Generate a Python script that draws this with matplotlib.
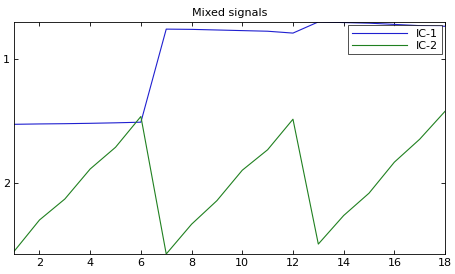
import matplotlib
matplotlib.use("Agg")
import matplotlib.pyplot as plt
import numpy as np

x = np.arange(1, 19)
ic1 = [1.525, 1.522, 1.52, 1.517, 1.513, 1.508, 0.758, 0.76, 0.765, 0.77, 0.775, 0.79,
       0.70, 0.705, 0.71, 0.72, 0.73, 0.735]
ic2 = [2.548, 2.296, 2.127, 1.885, 1.71, 1.462, 2.57, 2.33, 2.14, 1.895, 1.73, 1.484,
       2.49, 2.26, 2.08, 1.83, 1.645, 1.42]

fig = plt.figure(figsize=(4.56, 2.74), dpi=100)
ax = fig.add_axes([0.031, 0.073, 0.945, 0.847])
ax.plot(x, ic1, color="#2020d0", lw=0.8, label="IC-1")
ax.plot(x, ic2, color="#208020", lw=0.8, label="IC-2")

allv = ic1 + ic2
ax.set_xlim(x.min(), x.max())
ax.set_ylim(max(allv), min(allv))
ax.set_xticks(range(2, 19, 2))
ax.set_yticks([1, 2])
ax.tick_params(direction="in", top=True, right=True, labelsize=8, length=3, width=0.6, pad=3)
for s in ax.spines.values():
    s.set_linewidth(0.6)
ax.set_title("Mixed signals", fontsize=8, pad=4)
leg = ax.legend(loc="upper right", fontsize=8, fancybox=False, edgecolor="black",
                handlelength=5, borderaxespad=0.3, labelspacing=0.2, borderpad=0.3)
leg.get_frame().set_linewidth(0.6)
fig.savefig("out.png", dpi=100)
